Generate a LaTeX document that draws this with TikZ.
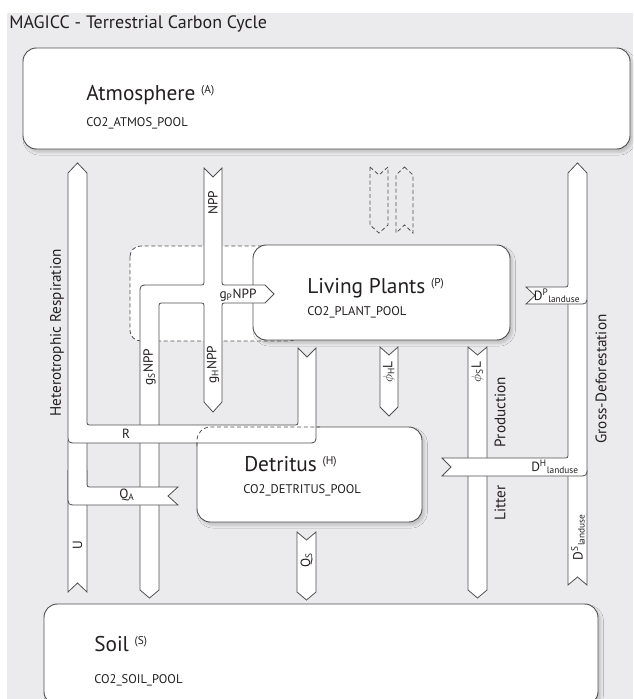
\documentclass[tikz,border=0pt]{standalone}
\usepackage{fontspec}
\setmainfont{PT Sans}
\usetikzlibrary{shadows.blur}
\definecolor{bg}{RGB}{235,235,237}
\definecolor{ln}{RGB}{80,80,80}
\definecolor{txt}{RGB}{35,31,32}
\newcommand\poolsup[1]{\raisebox{5pt}{\fontsize{8.5}{9}\selectfont #1}}
\begin{document}
\begin{tikzpicture}[x=0.75pt,y=-0.75pt,
  band/.style={fill=white,draw=ln,line width=0.6pt,line join=miter},
  dband/.style={draw=ln,line width=0.6pt,dash pattern=on 3pt off 2pt},
  pool/.style={fill=white,draw=ln,line width=0.7pt,rounded corners=10pt,
    blur shadow={shadow xshift=2pt,shadow yshift=-2.5pt,shadow blur steps=6,shadow opacity=18}},
  blabel/.style={font=\fontsize{10}{12}\selectfont,text=txt,inner sep=0pt},
  slabel/.style={font=\fontsize{11.4}{13}\selectfont,text=txt,inner sep=0pt},
  ptitle/.style={font=\fontsize{16}{18}\selectfont,text=txt,inner sep=0pt,anchor=base west},
  pcode/.style={font=\fontsize{9.4}{11}\selectfont,text=txt,inner sep=0pt,anchor=base west}]
\useasboundingbox (0,0) rectangle (633,699);
\fill[bg] (7,13) rectangle (633,699);
\node[font=\fontsize{13.5}{15}\selectfont,text=txt,inner sep=0pt,anchor=base west] (title) at (9,29) {MAGICC - Terrestrial Carbon Cycle};

% pools
\path[pool] (23,48) rectangle (630,149);
\path[pool] (44,604) rectangle (598,705);
\draw[ln,line width=0.6pt,dash pattern=on 3pt off 2pt,fill=white,rounded corners=8pt] (130,246) rectangle (300,341);
\path[pool] (253,245) rectangle (510,340);
\path[pool] (197,427) rectangle (422,522);

% NPP complex
\draw[band] (204,168) -- (213,177) -- (222,168) -- (222,280) .. controls (222,285) .. (227,285) -- (265,285) -- (274,294) -- (265,303) -- (227,303) .. controls (222,303) .. (222,308) -- (222,402) -- (213,412) -- (204,402) -- (204,308) .. controls (204,303) .. (199,303) -- (164,303) .. controls (159,303) .. (159,308) -- (159,590) -- (149.5,598) -- (140,590) -- (140,294) .. controls (140,285) .. (149,285) -- (199,285) .. controls (204,285) .. (204,280) -- cycle;

% left respiration complex
\draw[band] (68,470) -- (68,592) -- (77.5,583) -- (87,592) -- (87,470);
\draw[band] (87,440) -- (87,482) .. controls (87,487) .. (92,487) -- (178,487) -- (168,496) -- (178,505) -- (77,505) .. controls (68,505) .. (68,496) -- (68,440);
\draw[band] (77.5,163) -- (87,173) -- (87,420) .. controls (87,425) .. (92,425) -- (293,425) .. controls (298,425) .. (298,420) -- (298,348) -- (307,357) -- (316,348) -- (316,434) .. controls (316,443) .. (307,443) -- (77,443) .. controls (68,443) .. (68,434) -- (68,173) -- cycle;
\draw[ln,line width=0.6pt,dash pattern=on 3pt off 2pt,rounded corners=10pt] (197,446) -- (197,427) -- (320,427);

% other flows
\draw[band] (297,532) -- (306.5,540) -- (316,532) -- (316,592) -- (306.5,600) -- (297,592) -- cycle;
\draw[band] (380,347) -- (389,355) -- (398,347) -- (398,407) -- (389,416) -- (380,407) -- cycle;
\draw[band] (468,347) -- (477.5,355) -- (487,347) -- (487,590) -- (477.5,598) -- (468,590) -- cycle;

% deforestation complex
\draw[band] (568,470) -- (568,585) -- (577.5,577) -- (587,585) -- (587,470);
\draw[band] (568,300) -- (568,453) .. controls (568,458) .. (563,458) -- (442,458) -- (451,467) -- (442,476) -- (578,476) .. controls (587,476) .. (587,467) -- (587,300);
\draw[band] (577.5,163) -- (587,173) -- (587,295) .. controls (587,304) .. (578,304) -- (526,304) -- (535,295.5) -- (526,287) -- (563,287) .. controls (568,287) .. (568,282) -- (568,173) -- cycle;

% dashed pair
\draw[dband] (370,167) -- (379,175) -- (388,167) -- (388,225) -- (379,233) -- (370,225) -- cycle;
\draw[dband] (404.5,167) -- (413,175) -- (413,233) -- (404.5,225) -- (396,233) -- (396,175) -- cycle;

% pool texts
\node[ptitle] (atmT) at (86,100) {Atmosphere \poolsup{(A)}};
\node[pcode] (atmC) at (86,126) {CO2\_ATMOS\_POOL};
\node[ptitle] (lpT) at (307,293) {Living Plants \poolsup{(P)}};
\node[pcode] (lpC) at (307,315) {CO2\_PLANT\_POOL};
\node[ptitle] (detT) at (244,471) {Detritus \poolsup{(H)}};
\node[pcode] (detC) at (243,493) {CO2\_DETRITUS\_POOL};
\node[ptitle] (soilT) at (94,651) {Soil \poolsup{(S)}};
\node[pcode] (soilC) at (94,683) {CO2\_SOIL\_POOL};

% flow labels
\node[blabel,rotate=90] (lnpp) at (213,203) {NPP};
\node[blabel] (lgp) at (238,295) {g\textsubscript{P}NPP};
\node[blabel,rotate=90] (lgs) at (149.5,367) {g\textsubscript{S}NPP};
\node[blabel,rotate=90] (lgh) at (213,365) {g\textsubscript{H}NPP};
\node[blabel] (lr) at (126,434) {R};
\node[blabel] (lqa) at (127,495) {Q\textsubscript{A}};
\node[blabel,rotate=90] (lu) at (77.5,545) {U};
\node[blabel,rotate=90] (lqs) at (306.5,560) {Q\textsubscript{S}};
\node[blabel,rotate=90] (lph) at (389,372) {$\phi$\textsubscript{H}L};
\node[blabel,rotate=90] (lps) at (477.5,372) {$\phi$\textsubscript{S}L};
\node[slabel,rotate=90] (lprod) at (500,412) {Production};
\node[slabel,rotate=90] (llit) at (500,503) {Litter};
\node[blabel] (ldh) at (555,467) {D\textsuperscript{H}\textsubscript{landuse}};
\node[blabel] (ldp) at (557,296) {D\textsuperscript{P}\textsubscript{landuse}};
\node[blabel,rotate=90] (lds) at (578,537) {D\textsuperscript{S}\textsubscript{landuse}};
\node[slabel,rotate=90] (lgd) at (601,379) {Gross-Deforestation};
\node[slabel,rotate=90] (lhr) at (57,333) {Heterotrophic Respiration};
\end{tikzpicture}
\end{document}
